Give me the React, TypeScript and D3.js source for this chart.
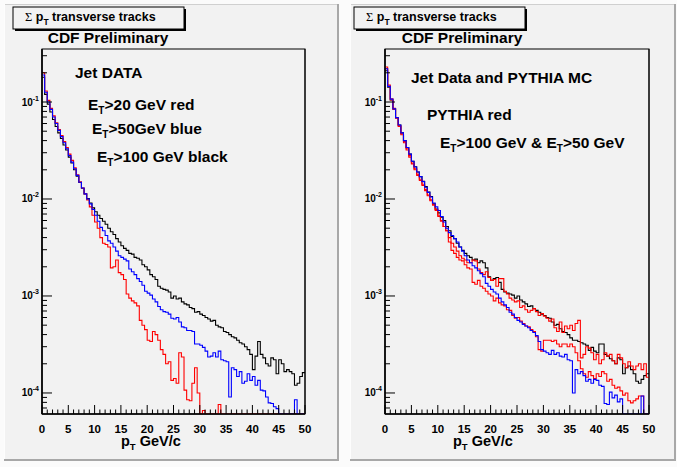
import React from 'react';
import * as d3 from 'd3';

// ---------- data ----------
const pTMin = 0;
const pTMax = 50;
const binWidth = 0.5;
const binEdges: number[] = d3.range(0, 101).map((i) => pTMin + i * binWidth);

const xMajorTicks = [0, 5, 10, 15, 20, 25, 30, 35, 40, 45, 50];
const yDecades = [-4, -3, -2, -1];

// Left panel: Jet DATA
const leftRed = [0.20, 0.13, 0.104, 0.086, 0.072, 0.061, 0.052, 0.045, 0.039, 0.034, 0.029, 0.025, 0.021, 0.0178, 0.0150, 0.0130, 0.0113, 0.0098,
  8.3e-3, 6.8e-3, 5.8e-3, 5.0e-3, 4.0e-3, 3.5e-3, 3.4e-3, 3.2e-3, 1.95e-3, 2.0e-3,
  2.35e-3, 1.74e-3, 1.66e-3, 1.48e-3, 1.05e-3, 9.5e-4, 8.9e-4, 8.5e-4, 7.9e-4, 5.6e-4,
  5.0e-4, 4.5e-4, 3.5e-4, 3.4e-4, 4.3e-4, 4.0e-4, 3.5e-4, 2.8e-4, 2.5e-4, 2.0e-4,
  2.1e-4, 1.35e-4, 1.41e-4, 1.26e-4, 2.6e-4, 2.35e-4, 1.07e-4, 8.5e-5, 8.3e-5, 1.26e-4,
  1.82e-4, 1.0e-4, 0, 6.6e-5, 0, 0, 0, 0, 0, 7.6e-5,
  0, 0, 0, 0, 0, 0, 0, 0, 0, 0, 0, 0, 0, 0, 0, 0, 0, 0, 0, 0, 0, 0, 0, 0, 0, 0, 0, 0, 0, 0, 0, 0];

const leftBlue = [0.19, 0.126, 0.100, 0.084, 0.070, 0.060, 0.051, 0.044, 0.038, 0.033, 0.028, 0.024, 0.0205, 0.0175, 0.0149, 0.0130, 0.0113, 0.0100,
  8.9e-3, 7.8e-3, 6.8e-3, 5.9e-3, 5.1e-3, 4.7e-3, 4.2e-3, 3.7e-3, 3.5e-3, 3.2e-3,
  2.9e-3, 2.6e-3, 2.5e-3, 2.4e-3, 2.3e-3, 1.9e-3, 1.78e-3, 1.66e-3, 1.51e-3, 1.41e-3,
  1.29e-3, 1.12e-3, 1.07e-3, 1.02e-3, 9.3e-4, 8.7e-4, 7.8e-4, 7.2e-4, 6.9e-4, 6.8e-4,
  6.5e-4, 5.9e-4, 5.8e-4, 6.0e-4, 5.4e-4, 4.8e-4, 4.7e-4, 4.4e-4, 4.4e-4, 4.3e-4,
  3.2e-4, 3.2e-4, 3.1e-4, 2.95e-4, 2.7e-4, 2.35e-4, 2.4e-4, 2.6e-4, 2.35e-4, 2.7e-4,
  2.2e-4, 2.15e-4, 2.1e-4, 9.1e-5, 1.82e-4, 1.74e-4, 1.48e-4, 1.66e-4, 1.26e-4, 1.32e-4,
  1.58e-4, 1.35e-4, 1.48e-4, 1.2e-4, 1.35e-4, 1.07e-4, 1.05e-4, 9.1e-5, 7.9e-5, 7.8e-5,
  7.2e-5, 6.9e-5, 0, 0, 0, 0, 0, 0, 8.5e-5, 0,
  0, 0];

const leftBlack = [0.18, 0.12, 0.095, 0.079, 0.066, 0.056, 0.048, 0.042, 0.036, 0.032, 0.027, 0.0235, 0.020, 0.0172, 0.0148, 0.0129, 0.0113, 0.0101,
  9.1e-3, 8.1e-3, 7.4e-3, 6.8e-3, 6.3e-3, 5.9e-3, 5.5e-3, 5.0e-3, 4.6e-3, 4.3e-3,
  3.9e-3, 3.6e-3, 3.3e-3, 3.1e-3, 2.95e-3, 2.75e-3, 2.7e-3, 2.5e-3, 2.45e-3, 2.35e-3,
  2.1e-3, 2.0e-3, 1.86e-3, 1.66e-3, 1.58e-3, 1.48e-3, 1.26e-3, 1.20e-3, 1.17e-3, 1.15e-3,
  1.10e-3, 9.5e-4, 1.0e-3, 9.3e-4, 9.5e-4, 8.7e-4, 8.3e-4, 8.1e-4, 7.6e-4, 7.4e-4,
  6.8e-4, 6.9e-4, 6.5e-4, 6.3e-4, 6.0e-4, 5.8e-4, 5.5e-4, 5.6e-4, 5.0e-4, 4.8e-4,
  4.7e-4, 4.3e-4, 4.2e-4, 4.0e-4, 3.8e-4, 3.7e-4, 3.5e-4, 3.3e-4, 3.2e-4, 3.0e-4,
  2.8e-4, 2.5e-4, 1.74e-4, 2.4e-4, 3.4e-4, 2.5e-4, 2.3e-4, 2.0e-4, 1.9e-4, 2.3e-4,
  2.2e-4, 1.58e-4, 2.2e-4, 2.0e-4, 1.66e-4, 1.74e-4, 1.66e-4, 1.58e-4, 1.2e-4, 1.26e-4,
  1.48e-4, 1.62e-4];

// Right panel: Jet Data and PYTHIA MC
const rightBlack = [0.21, 0.142, 0.105, 0.085, 0.069, 0.058, 0.048, 0.040, 0.034, 0.029, 0.0245, 0.0215, 0.019, 0.017, 0.0152, 0.0134, 0.0118, 0.0106,
  8.9e-3, 7.9e-3, 7.2e-3, 6.5e-3, 6.0e-3, 5.2e-3, 4.7e-3, 4.1e-3, 3.9e-3, 3.5e-3,
  3.2e-3, 2.95e-3, 2.75e-3, 2.6e-3, 2.5e-3, 2.35e-3, 2.4e-3, 2.2e-3, 2.3e-3, 2.2e-3,
  1.95e-3, 1.58e-3, 1.45e-3, 1.51e-3, 1.55e-3, 1.38e-3, 1.17e-3, 1.10e-3, 1.07e-3, 1.05e-3,
  1.02e-3, 9.5e-4, 1.0e-3, 9.1e-4, 8.7e-4, 8.3e-4, 7.8e-4, 7.9e-4, 7.4e-4, 7.1e-4,
  6.8e-4, 6.5e-4, 6.3e-4, 6.0e-4, 5.9e-4, 5.4e-4, 5.0e-4, 5.1e-4, 4.6e-4, 4.3e-4,
  4.2e-4, 4.0e-4, 3.7e-4, 3.5e-4, 3.5e-4, 3.4e-4, 3.3e-4, 3.2e-4, 3.1e-4, 2.75e-4,
  2.95e-4, 2.7e-4, 2.6e-4, 3.2e-4, 3.2e-4, 2.5e-4, 2.4e-4, 2.25e-4, 2.15e-4, 2.0e-4,
  2.3e-4, 2.2e-4, 1.58e-4, 1.82e-4, 1.9e-4, 1.74e-4, 1.58e-4, 1.32e-4, 1.26e-4, 1.38e-4,
  1.51e-4, 1.58e-4];

const rightBlue = [0.22, 0.145, 0.107, 0.085, 0.069, 0.058, 0.048, 0.040, 0.034, 0.029, 0.0245, 0.0214, 0.019, 0.017, 0.0151, 0.0132, 0.0117, 0.0105,
  9.1e-3, 8.3e-3, 7.6e-3, 6.6e-3, 5.8e-3, 5.0e-3, 4.5e-3, 4.2e-3, 3.9e-3, 3.6e-3,
  3.2e-3, 2.9e-3, 2.6e-3, 2.35e-3, 2.2e-3, 2.05e-3, 1.95e-3, 1.82e-3, 1.7e-3, 1.58e-3,
  1.35e-3, 1.26e-3, 1.17e-3, 1.10e-3, 1.05e-3, 9.5e-4, 8.7e-4, 8.1e-4, 7.6e-4, 6.8e-4,
  6.5e-4, 6.0e-4, 5.6e-4, 5.4e-4, 5.1e-4, 4.9e-4, 4.7e-4, 4.4e-4, 4.2e-4, 3.9e-4,
  3.4e-4, 2.8e-4, 2.7e-4, 2.6e-4, 2.5e-4, 2.75e-4, 2.5e-4, 2.6e-4, 2.4e-4, 2.35e-4,
  2.5e-4, 2.2e-4, 2.15e-4, 1.0e-4, 1.74e-4, 1.58e-4, 1.66e-4, 1.51e-4, 1.32e-4, 1.38e-4,
  1.26e-4, 1.38e-4, 1.35e-4, 1.2e-4, 1.17e-4, 7.8e-5, 7.6e-5, 1.02e-4, 8.9e-5, 9.5e-5,
  8.1e-5, 8.7e-5, 0, 0, 0, 0, 0, 0, 0, 9.3e-5,
  0, 0];

const rightPythia100 = [0.23, 0.15, 0.108, 0.086, 0.069, 0.057, 0.047, 0.039, 0.033, 0.028, 0.0235, 0.0205, 0.018, 0.016, 0.0142, 0.0125, 0.011, 0.0098,
  8.7e-3, 7.6e-3, 6.8e-3, 6.0e-3, 5.2e-3, 4.7e-3, 4.0e-3, 3.5e-3, 3.2e-3, 2.9e-3,
  2.6e-3, 2.45e-3, 2.35e-3, 2.2e-3, 2.2e-3, 2.35e-3, 2.3e-3, 1.9e-3, 1.74e-3, 1.66e-3,
  1.78e-3, 1.55e-3, 1.45e-3, 1.48e-3, 1.26e-3, 1.51e-3, 1.51e-3, 1.12e-3, 1.05e-3, 9.5e-4,
  9.1e-4, 8.7e-4, 8.9e-4, 7.6e-4, 7.9e-4, 7.2e-4, 6.8e-4, 7.1e-4, 7.4e-4, 6.9e-4,
  6.3e-4, 6.6e-4, 6.2e-4, 5.9e-4, 5.5e-4, 5.8e-4, 4.7e-4, 4.3e-4, 5.4e-4, 4.2e-4,
  4.9e-4, 4.6e-4, 5.0e-4, 4.4e-4, 5.2e-4, 5.6e-4, 2.3e-4, 2.5e-4, 3.0e-4, 2.9e-4,
  2.6e-4, 2.2e-4, 2.5e-4, 2.0e-4, 2.2e-4, 2.6e-4, 2.4e-4, 2.5e-4, 2.15e-4, 2.0e-4,
  2.5e-4, 2.3e-4, 2.0e-4, 1.82e-4, 2.1e-4, 1.9e-4, 1.74e-4, 1.9e-4, 2.0e-4, 1.74e-4,
  2.0e-4, 1.45e-4];

const rightPythia50 = [0.22, 0.145, 0.105, 0.084, 0.068, 0.056, 0.046, 0.038, 0.032, 0.027, 0.023, 0.020, 0.0175, 0.0155, 0.0138, 0.0122, 0.0108, 0.0096,
  8.7e-3, 7.8e-3, 6.6e-3, 5.9e-3, 5.2e-3, 4.7e-3, 3.6e-3, 2.95e-3, 2.75e-3, 2.5e-3,
  2.35e-3, 2.3e-3, 2.1e-3, 1.95e-3, 1.9e-3, 1.38e-3, 1.32e-3, 1.45e-3, 1.26e-3, 1.20e-3,
  1.12e-3, 1.05e-3, 1.0e-3, 8.9e-4, 9.5e-4, 8.5e-4, 8.1e-4, 7.9e-4, 7.2e-4, 7.1e-4,
  6.3e-4, 5.9e-4, 6.0e-4, 5.5e-4, 5.2e-4, 4.9e-4, 4.8e-4, 4.5e-4, 4.3e-4, 3.8e-4,
  2.8e-4, 2.7e-4, 3.5e-4, 3.5e-4, 3.5e-4, 3.4e-4, 3.5e-4, 3.2e-4, 3.0e-4, 3.2e-4,
  3.2e-4, 3.0e-4, 3.2e-4, 3.0e-4, 2.6e-4, 2.15e-4, 1.78e-4, 1.58e-4, 1.45e-4, 1.66e-4,
  1.51e-4, 1.41e-4, 1.58e-4, 1.48e-4, 1.66e-4, 1.58e-4, 1.32e-4, 1.38e-4, 1.2e-4, 1.12e-4,
  1.15e-4, 1.05e-4, 9.5e-5, 1.0e-4, 8.3e-5, 7.9e-5, 8.3e-5, 8.7e-5, 9.3e-5, 9.3e-5,
  0, 0];

// ---------- layout / style ----------
const W = 677;
const H = 467;
const Y_MIN = 6.07e-5;
const Y_MAX = 0.352;
const SANS = "'Liberation Sans', Arial, Helvetica, sans-serif";
const SERIF = "'Liberation Serif', 'DejaVu Serif', serif";
const PAD_FILL = '#f2f2f2';
const ANNOT_SIZE = 15.5;

type Rect = { x: number; y: number; w: number; h: number };
type Series = { values: number[]; color: string };

function Hist({ values, color, x, y }: { values: number[]; color: string; x: any; y: any }) {
  const pts: [number, number][] = [];
  values.forEach((v, i) => {
    const yy = y(Math.max(v, Y_MIN));
    pts.push([x(binEdges[i]), yy], [x(binEdges[i + 1]), yy]);
  });
  const line = d3.line();
  return <path d={line(pts) || ''} fill="none" stroke={color} strokeWidth={1.1} strokeLinejoin="miter" />;
}

function Panel({ id, pad, frame, series, titleBox, cdfX, xTitleX }: {
  id: string; pad: Rect; frame: Rect; series: Series[]; titleBox: Rect; cdfX: number; xTitleX: number;
}) {
  const x = d3.scaleLinear().domain([pTMin, pTMax]).range([frame.x, frame.x + frame.w]);
  const y = d3.scaleLog().domain([Y_MIN, Y_MAX]).range([frame.y + frame.h, frame.y]);
  const bottom = frame.y + frame.h;
  const minorX = d3.range(pTMin, pTMax + 1, 1).filter((v) => v % 5 !== 0);
  const minorY: number[] = [];
  [-5, -4, -3, -2, -1].forEach((d) => {
    for (let k = 2; k <= 9; k++) {
      const v = k * Math.pow(10, d);
      if (v > Y_MIN && v < Y_MAX) minorY.push(v);
    }
  });
  return (
    <g>
      {/* pad */}
      <rect x={pad.x} y={pad.y} width={pad.w} height={pad.h} fill={PAD_FILL} />
      <line x1={pad.x} y1={pad.y + 0.5} x2={pad.x + pad.w} y2={pad.y + 0.5} stroke="#d0d0d0" strokeWidth={1} />
      <line x1={pad.x + 0.5} y1={pad.y} x2={pad.x + 0.5} y2={pad.y + pad.h} stroke="#fdfdfd" strokeWidth={1} />
      <line x1={pad.x + pad.w - 1} y1={pad.y} x2={pad.x + pad.w - 1} y2={pad.y + pad.h} stroke="#a8a8a8" strokeWidth={2} />
      <line x1={pad.x} y1={pad.y + pad.h - 1} x2={pad.x + pad.w} y2={pad.y + pad.h - 1} stroke="#a8a8a8" strokeWidth={2} />

      {/* frame */}
      <rect x={frame.x} y={frame.y} width={frame.w} height={frame.h} fill={PAD_FILL} stroke="#000" strokeWidth={1} />
      <clipPath id={`clip-${id}`}>
        <rect x={frame.x} y={frame.y} width={frame.w} height={frame.h} />
      </clipPath>
      <g clipPath={`url(#clip-${id})`}>
        {series.map((s, i) => (
          <Hist key={i} values={s.values} color={s.color} x={x} y={y} />
        ))}
      </g>

      {/* axes lines */}
      <line x1={frame.x} y1={bottom} x2={frame.x + frame.w} y2={bottom} stroke="#000" strokeWidth={1.6} />
      <line x1={frame.x} y1={frame.y} x2={frame.x} y2={bottom} stroke="#000" strokeWidth={1.6} />
      <line x1={frame.x + frame.w} y1={frame.y} x2={frame.x + frame.w} y2={bottom} stroke="#000" strokeWidth={1} />

      {/* x ticks */}
      {xMajorTicks.map((t) => (
        <line key={`M${t}`} x1={x(t)} x2={x(t)} y1={bottom} y2={bottom - 9} stroke="#000" strokeWidth={1} />
      ))}
      {minorX.map((t) => (
        <line key={`m${t}`} x1={x(t)} x2={x(t)} y1={bottom} y2={bottom - 4.5} stroke="#000" strokeWidth={1} />
      ))}
      {xMajorTicks.map((t) => (
        <text key={`L${t}`} x={x(t)} y={bottom + 18.5} textAnchor="middle" fontFamily={SANS} fontWeight="bold" fontSize={11.5} fill="#000">
          {t}
        </text>
      ))}

      {/* y ticks */}
      {yDecades.map((d) => (
        <line key={`YM${d}`} x1={frame.x} x2={frame.x + 10} y1={y(Math.pow(10, d))} y2={y(Math.pow(10, d))} stroke="#000" strokeWidth={1} />
      ))}
      {minorY.map((v, i) => (
        <line key={`Ym${i}`} x1={frame.x} x2={frame.x + 5} y1={y(v)} y2={y(v)} stroke="#000" strokeWidth={1} />
      ))}
      {yDecades.map((d) => (
        <text key={`YL${d}`} x={frame.x - 3} y={y(Math.pow(10, d)) + 3.5} textAnchor="end" fontFamily={SANS} fontWeight="bold" fontSize={10} fill="#000">
          10<tspan fontSize={7} dy={-5}>{`${d}`}</tspan>
        </text>
      ))}

      {/* x-axis title */}
      <text x={xTitleX} y={bottom + 32} fontFamily={SANS} fontWeight="bold" fontSize={14.5} fill="#000">
        p<tspan fontSize={9.5} dy={4}>T</tspan><tspan dy={-4}> GeV/c</tspan>
      </text>

      {/* title box */}
      <rect x={titleBox.x + 2} y={titleBox.y + 2} width={titleBox.w} height={titleBox.h} fill="#000" />
      <rect x={titleBox.x} y={titleBox.y} width={titleBox.w} height={titleBox.h} fill={PAD_FILL} stroke="#000" strokeWidth={1} />
      <text x={titleBox.x + 12} y={titleBox.y + 13.5} fontFamily={SANS} fontWeight="bold" fontSize={12.5} fill="#000">
        <tspan fontFamily={SERIF} fontWeight="normal">Σ</tspan> p<tspan fontSize={8.5} dy={4}>T</tspan><tspan dy={-4}> transverse tracks</tspan>
      </text>
      <text x={cdfX} y={43} textAnchor="middle" fontFamily={SANS} fontWeight="bold" fontSize={15.5} fill="#000">
        CDF Preliminary
      </text>
    </g>
  );
}

function ET({ x, y, rest, rest2 }: { x: number; y: number; rest: string; rest2?: string }) {
  return (
    <text x={x} y={y} fontFamily={SANS} fontWeight="bold" fontSize={ANNOT_SIZE} fill="#000">
      E<tspan fontSize={10} dy={4}>T</tspan><tspan dy={-4}>{rest}</tspan>
      {rest2 !== undefined ? (
        <>
          <tspan>E</tspan><tspan fontSize={10} dy={4}>T</tspan><tspan dy={-4}>{rest2}</tspan>
        </>
      ) : null}
    </text>
  );
}

export default function App() {
  return (
    <svg width={W} height={H} style={{ position: 'absolute', left: 0, top: 0, background: '#fbfbfb' }}>
      <rect x={0} y={0} width={W} height={H} fill="#fbfbfb" />
      <Panel
        id="left"
        pad={{ x: 4, y: 4, w: 335, h: 457 }}
        frame={{ x: 42, y: 49, w: 263, h: 365 }}
        titleBox={{ x: 13, y: 7, w: 171, h: 22 }}
        cdfX={108}
        xTitleX={121}
        series={[
          { values: leftBlack, color: '#000000' },
          { values: leftRed, color: '#ff0000' },
          { values: leftBlue, color: '#0000ff' },
        ]}
      />
      <Panel
        id="right"
        pad={{ x: 350, y: 4, w: 326, h: 457 }}
        frame={{ x: 385, y: 49, w: 264, h: 365 }}
        titleBox={{ x: 354, y: 7, w: 171, h: 22 }}
        cdfX={462}
        xTitleX={453}
        series={[
          { values: rightBlack, color: '#000000' },
          { values: rightPythia100, color: '#ff0000' },
          { values: rightPythia50, color: '#ff0000' },
          { values: rightBlue, color: '#0000ff' },
        ]}
      />
      {/* left annotations */}
      <text x={75} y={78} fontFamily={SANS} fontWeight="bold" fontSize={ANNOT_SIZE} fill="#000">Jet DATA</text>
      <ET x={88} y={110} rest=">20 GeV red" />
      <ET x={92} y={134} rest=">50GeV blue" />
      <ET x={97} y={162} rest=">100 GeV black" />
      {/* right annotations */}
      <text x={411} y={83} fontFamily={SANS} fontWeight="bold" fontSize={ANNOT_SIZE} fill="#000">Jet Data and PYTHIA MC</text>
      <text x={427} y={120} fontFamily={SANS} fontWeight="bold" fontSize={ANNOT_SIZE} fill="#000">PYTHIA red</text>
      <ET x={440} y={148} rest=">100 GeV & " rest2=">50 GeV" />
    </svg>
  );
}
